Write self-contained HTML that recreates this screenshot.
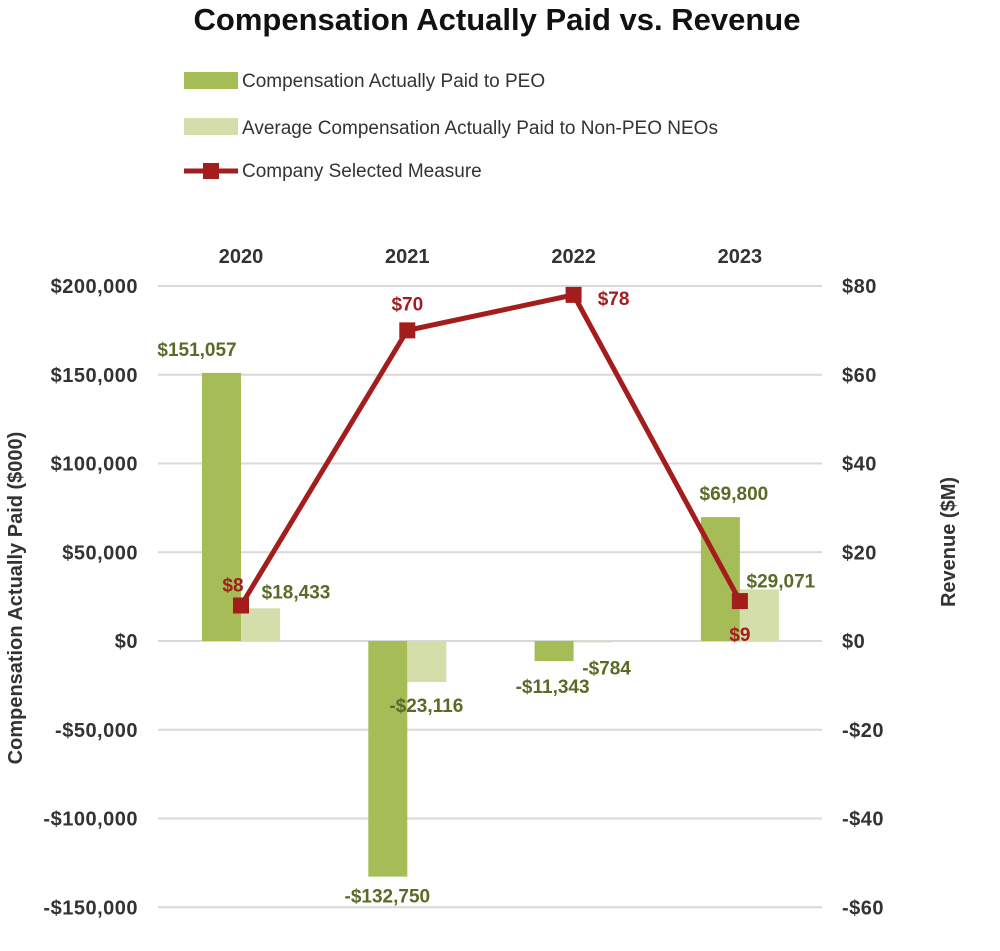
<!DOCTYPE html>
<html><head><meta charset="utf-8"><style>
body{margin:0;background:#fff;width:1000px;height:946px;overflow:hidden}
svg{font-family:"Liberation Sans",sans-serif}
</style></head><body>
<svg id="c" width="1000" height="946">
<text x="497" y="30" text-anchor="middle" font-size="31" font-weight="bold" fill="#111" style="letter-spacing:0px">Compensation Actually Paid vs. Revenue</text>
<g font-size="19" fill="#333">
<g><rect x="184" y="72" width="54" height="17" fill="#a5bc57"/><text x="242" y="87">Compensation Actually Paid to PEO</text></g>
<g><rect x="184" y="118" width="54" height="17" fill="#d3deaa"/><text x="242" y="134">Average Compensation Actually Paid to Non-PEO NEOs</text></g>
<g><line x1="184" y1="171" x2="238" y2="171" stroke="#a31d1d" stroke-width="5"/><rect x="203" y="163" width="16" height="16" fill="#a31d1d"/><text x="242" y="177">Company Selected Measure</text></g>
</g>
<text transform="translate(22,598) rotate(-90)" text-anchor="middle" font-size="20" font-weight="bold" fill="#333">Compensation Actually Paid ($000)</text>
<text transform="translate(955,542) rotate(-90)" text-anchor="middle" font-size="20" font-weight="bold" fill="#333">Revenue ($M)</text>
<g id="plot"></g>
</svg>
<script>
const categories=["2020","2021","2022","2023"];
const peoValues=[151057,-132750,-11343,69800];
const nonPeoValues=[18433,-23116,-784,29071];
const revenueValues=[8,70,78,9];
const leftTicks=[200000,150000,100000,50000,0,-50000,-100000,-150000];
const rightTicks=[80,60,40,20,0,-20,-40,-60];
const NS="http://www.w3.org/2000/svg";
const g=document.getElementById('plot');
const y0=641, pxPer=355/200000;
const yL=v=>y0-v*pxPer;
const yR=v=>y0-v*355/80;
const xC=i=>241+i*166.3;
function fmt(v){const s='$'+Math.abs(v).toLocaleString('en-US');return v<0?'-'+s:s;}
function mk(tag,attrs,text){const e=document.createElementNS(NS,tag);for(const k in attrs)e.setAttribute(k,attrs[k]);if(text!=null)e.textContent=text;g.appendChild(e);return e;}
leftTicks.forEach(t=>{
 const y=yL(t);
 const l=mk('line',{x1:158,x2:822,y1:y,y2:y,stroke:'#d9d9d9','stroke-width':2});
 
 
 const tx=mk('text',{x:138,y:y+7,'text-anchor':'end','font-size':20,'font-weight':'bold',fill:'#333',style:'letter-spacing:0.5px'},fmt(t));
 
 
});
rightTicks.forEach(t=>{
 const tx=mk('text',{x:842,y:yR(t)+7,'font-size':20,'font-weight':'bold',fill:'#333',style:'letter-spacing:0.5px'},(t<0?'-$':'$')+Math.abs(t));
 
 
});
categories.forEach((c,i)=>{
 const tx=mk('text',{x:xC(i),y:263,'text-anchor':'middle','font-size':20,'font-weight':'bold',fill:'#333'},c);
 
 
 const w=39;
 [[peoValues[i],'#a5bc57',-w,'bar-peo'],[nonPeoValues[i],'#d3deaa',0,'bar-non-peo']].forEach(([v,col,off,nm])=>{
  const y=Math.min(yL(v),y0),h=Math.abs(yL(v)-y0);
  const r=mk('rect',{x:xC(i)+off,y:y,width:w,height:h,fill:col});
  
  
 });
});
const peoDx=[-44,-20,-21,-6], nonDx=[55,19,33,41];
peoValues.forEach((v,i)=>{
 const y=v>=0?yL(v)-17:yL(v)+26;
 const t=mk('text',{x:xC(i)+peoDx[i],y:v>=0?y:(i==2?yL(v)+32:y),'text-anchor':'middle','font-size':19,'font-weight':'bold',fill:'#5a6b28'},fmt(v));
 
 
});
nonPeoValues.forEach((v,i)=>{
 const y=v>=0?yL(v)-(i==0?10:2):yL(v)+30;
 const t=mk('text',{x:xC(i)+nonDx[i],y:i==2?yL(v)+32:y,'text-anchor':'middle','font-size':19,'font-weight':'bold',fill:'#5a6b28'},fmt(v));
 
 
});
const pts=revenueValues.map((v,i)=>xC(i)+','+yR(v)).join(' ');
const pl=mk('polyline',{points:pts,fill:'none',stroke:'#a31d1d','stroke-width':5,'stroke-linejoin':'round'});


const rdx=[-8,0,40,0], rdy=[-21,-27,3,33];
revenueValues.forEach((v,i)=>{
 const m=mk('rect',{x:xC(i)-8,y:yR(v)-8,width:16,height:16,fill:'#a31d1d'});
 
 
 const t=mk('text',{x:xC(i)+rdx[i],y:yR(v)+rdy[i]+7,'text-anchor':'middle','font-size':19,'font-weight':'bold',fill:'#a31d1d'},'$'+v);
 
 
});
</script>
</body></html>
